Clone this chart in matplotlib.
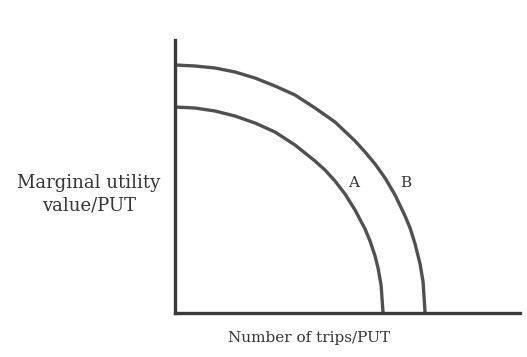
import matplotlib
matplotlib.use("Agg")
import matplotlib.pyplot as plt

# points (x = trips, y = marginal utility)
a_x = [0, 2, 4, 6, 8, 10, 12, 14, 15, 16, 17, 18, 19, 19.5, 20, 20.3, 20.6, 20.8]
a_y = [20.6, 20.5, 20.2, 19.7, 19.0, 18.1, 16.8, 15.2, 14.3, 13.2, 11.9, 10.3, 8.4, 7.2, 5.7, 4.5, 2.8, 0]

b_x = [0, 2, 4, 6, 8, 10, 12, 14, 16, 18, 19, 20, 21, 22, 23, 23.5, 24, 24.5, 24.8, 25.0]
b_y = [24.8, 24.7, 24.5, 24.1, 23.5, 22.7, 21.8, 20.5, 19.1, 17.2, 16.1, 14.9, 13.5, 11.8, 9.7, 8.5, 6.9, 4.9, 3.1, 0]

curve_labels = ["A", "B"]

plt.rcParams['font.family'] = ['DejaVu Serif']

fig = plt.figure(figsize=(5.27, 3.57), dpi=100)
ax = fig.add_axes([0.332, 0.123, 0.655, 0.765])

col = "#505050"
ax.plot(a_x, a_y, color=col, lw=2.4, solid_joinstyle="round", solid_capstyle="butt")
ax.plot(b_x, b_y, color=col, lw=2.4, solid_joinstyle="round", solid_capstyle="butt")

ax.set_xlim(0, 34.5)
ax.set_ylim(0, 27.3)
for s in ["top", "right"]:
    ax.spines[s].set_visible(False)
for s in ["left", "bottom"]:
    ax.spines[s].set_linewidth(2.4)
    ax.spines[s].set_color("#3a3a3a")
ax.set_xticks([])
ax.set_yticks([])

# curve labels
ax.text(17.9, 13.0, curve_labels[0], fontsize=11, color="#333333", ha="center", va="center")
ax.text(23.1, 13.0, curve_labels[1], fontsize=11, color="#333333", ha="center", va="center")

fig.text(89 / 527, 1 - 194 / 357, "Marginal utility\nvalue/PUT", fontsize=13,
         color="#333333", ha="center", va="center", linespacing=1.3)
fig.text(309 / 527, 1 - 338 / 357, "Number of trips/PUT", fontsize=11,
         color="#333333", ha="center", va="center")

fig.savefig("out.png", dpi=100)
